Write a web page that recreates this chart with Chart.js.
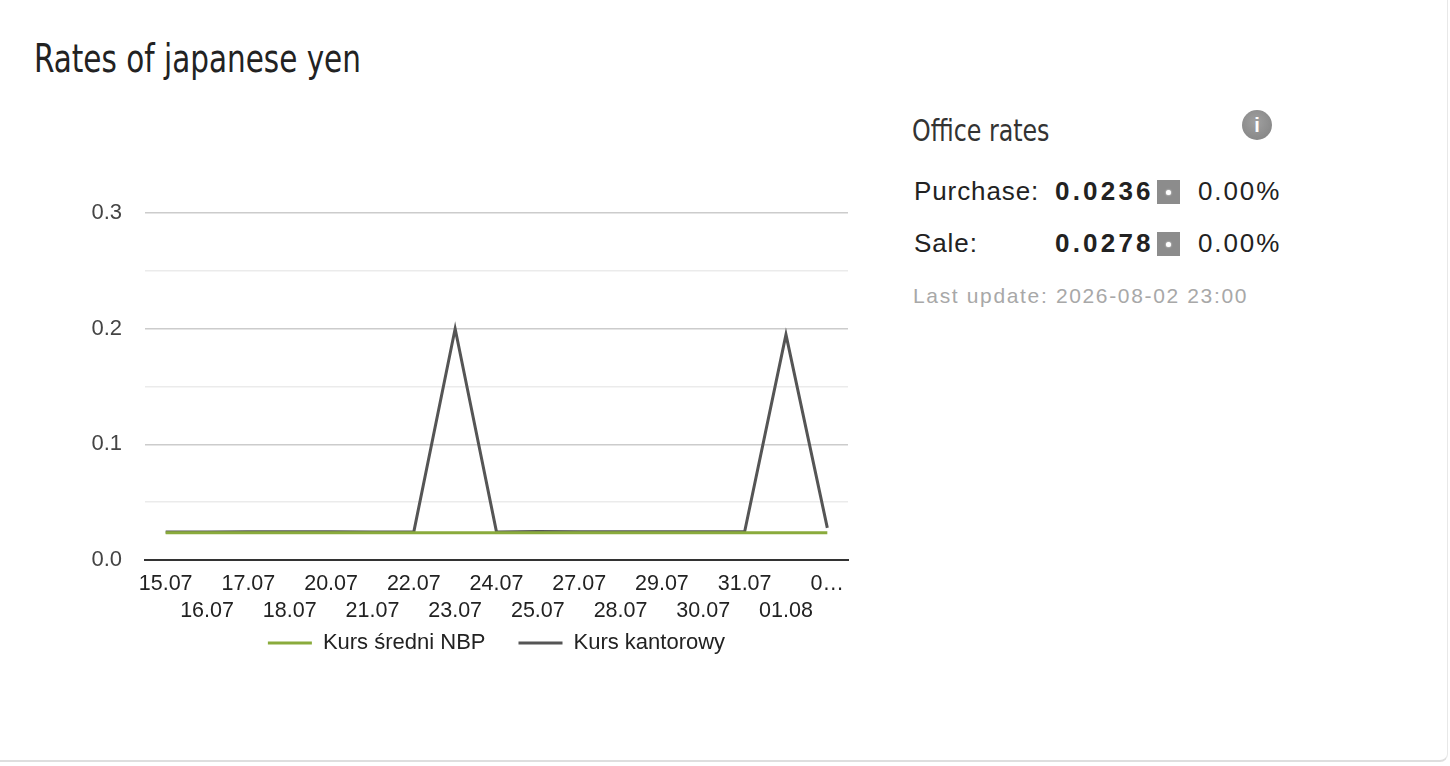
<!DOCTYPE html>
<html>
<head>
<meta charset="utf-8">
<script src="https://cdn.jsdelivr.net/npm/chart.js@4"></script>
<style>
  html,body{margin:0;padding:0;background:#fff;}
  body{width:1450px;height:766px;position:relative;overflow:hidden;font-family:"Liberation Sans",Arial,sans-serif;}
  .card{position:absolute;left:-10px;top:-10px;width:1458px;height:772px;border-bottom:2px solid #dedede;border-right:1px solid #e8e8e8;border-bottom-right-radius:8px;box-sizing:border-box;}
  .title{position:absolute;left:34px;top:39px;font-family:"Liberation Sans Narrow","DejaVu Sans Condensed",sans-serif;font-size:39px;color:#222;line-height:1;white-space:nowrap;transform:scaleX(0.84);transform-origin:0 0;}
  .office{position:absolute;left:912px;top:116px;font-family:"Liberation Sans Narrow","DejaVu Sans Condensed",sans-serif;font-size:30px;color:#333;line-height:1;white-space:nowrap;transform:scaleX(0.88);transform-origin:0 0;}
  .info{position:absolute;left:1242px;top:110px;width:30px;height:30px;border-radius:50%;background:radial-gradient(circle at 45% 40%,#a0a0a0,#808080);color:#fff;font:bold 20px "Liberation Sans",Arial,sans-serif;text-align:center;line-height:30px;}
  .row{position:absolute;left:914px;font-size:26px;color:#222;line-height:1;white-space:nowrap;letter-spacing:0.9px;}
  .row span{position:absolute;top:0;}
  .row .val{font-weight:bold;letter-spacing:3.2px;}
  .row .pct{letter-spacing:1.9px;}
  .sq{position:absolute;width:23px;height:24px;background:#8c8c8c;}
  .sq::after{content:"";position:absolute;left:9px;top:10px;width:5px;height:5px;border-radius:50%;background:#fff;box-shadow:0 0 2px #fff;}
  .upd{position:absolute;left:913px;top:285px;font-size:21px;color:#a8a8a8;letter-spacing:1.65px;white-space:nowrap;line-height:1;}
  #wrap{position:absolute;left:45px;top:177px;width:903px;height:523px;}
</style>
</head>
<body>
<div class="card"></div>
<div class="title">Rates of japanese yen</div>
<div class="office">Office rates</div>
<div class="info">i</div>
<div class="row" style="top:178px;"><span style="left:0">Purchase:</span><span class="val" style="left:141px">0.0236</span><span class="sq" style="left:243px;top:2px"></span><span class="pct" style="left:284px">0.00%</span></div>
<div class="row" style="top:230px;"><span style="left:0">Sale:</span><span class="val" style="left:141px">0.0278</span><span class="sq" style="left:243px;top:2px"></span><span class="pct" style="left:284px">0.00%</span></div>
<div class="upd">Last update: 2026-08-02 23:00</div>
<div id="wrap"><canvas id="c"></canvas></div>
<script>
const categories = ["15.07","16.07","17.07","18.07","20.07","21.07","22.07","23.07","24.07","25.07","27.07","28.07","29.07","30.07","31.07","01.08","02.08"];
const nbpValues = [0.0235,0.0235,0.0235,0.0235,0.0235,0.0235,0.0235,0.0235,0.0235,0.0235,0.0235,0.0235,0.0235,0.0235,0.0235,0.0235,0.0236];
const kantorValues = [0.0242,0.0242,0.0245,0.0245,0.0245,0.0243,0.0243,0.2000,0.0243,0.0247,0.0244,0.0244,0.0244,0.0244,0.0244,0.1950,0.0278];
const yTickLabels = ["0.0","0.1","0.2","0.3"];
const seriesNames = ["Kurs średni NBP","Kurs kantorowy"];

const FONT = '"Liberation Sans", Arial, sans-serif';
const LEGEND_SHIFT = 36;
const legendShift = {
  id: 'legendShift',
  afterLayout(chart){
    if (chart.legend) { chart.legend.top -= LEGEND_SHIFT; chart.legend.bottom -= LEGEND_SHIFT; }
  }
};
new Chart(document.getElementById('c'), {
  type: 'line',
  plugins: [legendShift],
  data: {
    labels: categories,
    datasets: [
      {label: seriesNames[0], data: nbpValues, borderColor:'#8aab3c', backgroundColor:'#8aab3c', borderWidth:3, pointRadius:0, pointStyle:'line', tension:0},
      {label: seriesNames[1], data: kantorValues, borderColor:'#555555', backgroundColor:'#555555', borderWidth:3, pointRadius:0, pointStyle:'line', tension:0}
    ]
  },
  options: {
    responsive:true, maintainAspectRatio:false, animation:false,
    layout:{padding:0},
    plugins:{
      tooltip:{enabled:false},
      legend:{position:'bottom', labels:{usePointStyle:true, pointStyleWidth:44, boxHeight:22, padding:33, color:'#222', font:{family:FONT, size:22}}}
    },
    scales:{
      x:{
        offset:true,
        grid:{display:false, drawTicks:false},
        border:{display:true, color:'#333', width:2},
        ticks:{autoSkip:false, maxRotation:0, minRotation:0, padding:10.5, color:'#222',
          font:{family:FONT, size:21.5, lineHeight:1.256},
          callback:function(v, i){
            let t = categories[i];
            if (i === categories.length-1) t = t.slice(0,1) + '…';
            return i % 2 === 0 ? [t, ''] : ['', t];
          }}
      },
      y:{
        min:0, max:0.3,
        afterFit:function(s){ s.width = 100; },
        border:{display:false},
        grid:{drawTicks:false, color:function(ctx){ return ctx.index % 2 === 0 ? '#cccccc' : '#ebebeb'; }, lineWidth:1.5},
        ticks:{stepSize:0.05, padding:23, color:'#444', font:{family:FONT, size:22},
          callback:function(v, i){ return i % 2 === 0 ? yTickLabels[i/2] : ''; }}
      },
      yR:{
        position:'right', display:true,
        afterFit:function(s){ s.width = 100; },
        border:{display:false}, grid:{display:false, drawOnChartArea:false, drawTicks:false},
        ticks:{display:false}
      }
    }
  }
});
</script>
</body>
</html>
